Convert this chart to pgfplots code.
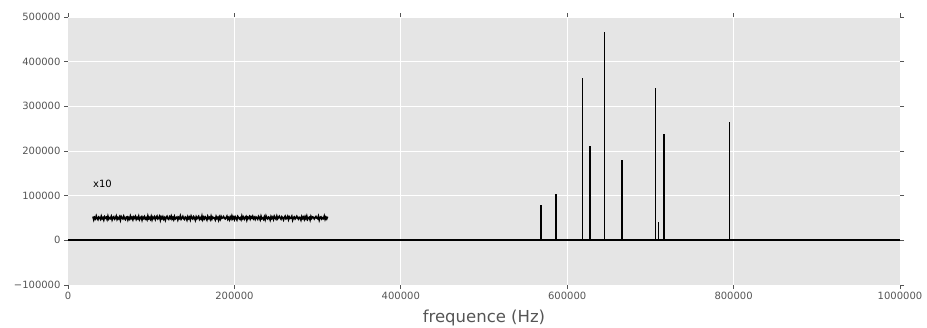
\documentclass[border=0pt]{standalone}
\usepackage{fontspec}
\setmainfont{DejaVu Sans}
\usepackage{pgfplots}
\pgfplotsset{compat=1.18}
\definecolor{bg}{HTML}{E5E5E5}
\definecolor{tk}{HTML}{555555}
\begin{document}
\begin{tikzpicture}
\useasboundingbox (-68pt,-42pt) rectangle (859pt,285pt);
\begin{axis}[
  at={(0,0)}, anchor=south west,
  scale only axis, width=832pt, height=268pt,
  xmin=0, xmax=1000000, ymin=-100000, ymax=500000,
  scaled ticks=false,
  axis background/.style={fill=bg},
  axis line style={draw=none},
  grid=major, grid style={white, line width=1pt},
  xtick={0,200000,400000,600000,800000,1000000},
  xticklabels={0,200000,400000,600000,800000,1000000},
  ytick={-100000,0,100000,200000,300000,400000,500000},
  yticklabels={−100000,0,100000,200000,300000,400000,500000},
  tick align=outside, major tick length=4pt,
  every tick/.style={tk, line width=0.8pt},
  tick label style={font=\fontsize{10}{12}\selectfont, text=tk},
  xlabel={frequence (Hz)},
  xlabel style={font=\fontsize{16.5}{19}\selectfont, text=tk, yshift=-3pt},
]
\addplot[black, line width=1.8pt] coordinates {(0,0)(1000000,0)};
\addplot[black, line width=1.3pt, ycomb] coordinates {
(568500,80000)
(586600,103000)
(618200,364000)
(627500,211000)
(645100,466000)
(665900,179000)
(706400,341000)
(709600,42000)
(716400,238000)
(767600,-2500)
(795400,264000)
};
\addplot[black, line width=1.6pt] table[row sep=\\] {
x y \\
30000 53200 \\ 31000 45900 \\ 32000 51200 \\ 33000 48200 \\ 34000 54500 \\ 35000 49300 \\ 36000 46400 \\ 37000 52100 \\ 38000 50300 \\ 39000 47200 \\
40000 53900 \\ 41000 48500 \\ 42000 50800 \\ 43000 45600 \\ 44000 52600 \\ 45000 49800 \\ 46000 51700 \\ 47000 46700 \\ 48000 54100 \\ 49000 47800 \\
50000 50500 \\ 51000 48800 \\ 52000 53600 \\ 53000 46100 \\ 54000 51400 \\ 55000 52900 \\ 56000 47500 \\ 57000 49400 \\ 58000 54300 \\ 59000 46900 \\
60000 50900 \\ 61000 48300 \\ 62000 52400 \\ 63000 45400 \\ 64000 53300 \\ 65000 50100 \\ 66000 48000 \\ 67000 53800 \\ 68000 48900 \\ 69000 46500 \\
70000 51900 \\ 71000 52700 \\ 72000 45800 \\ 73000 50600 \\ 74000 47600 \\ 75000 54400 \\ 76000 49100 \\ 77000 51500 \\ 78000 46200 \\ 79000 52200 \\
80000 49700 \\ 81000 53500 \\ 82000 47100 \\ 83000 51100 \\ 84000 48400 \\ 85000 54000 \\ 86000 46600 \\ 87000 50400 \\ 88000 52500 \\ 89000 45700 \\
90000 51800 \\ 91000 49200 \\ 92000 53100 \\ 93000 47900 \\ 94000 50200 \\ 95000 46300 \\ 96000 54700 \\ 97000 48600 \\ 98000 51000 \\ 99000 47300 \\
100000 53400 \\ 101000 46000 \\ 102000 52000 \\ 103000 49500 \\ 104000 52800 \\ 105000 46800 \\ 106000 51300 \\ 107000 54200 \\ 108000 48100 \\ 109000 49900 \\
110000 53700 \\ 111000 45500 \\ 112000 52300 \\ 113000 49000 \\ 114000 53000 \\ 115000 47400 \\ 116000 50700 \\ 117000 45200 \\ 118000 51600 \\ 119000 53900 \\
120000 48700 \\ 121000 47000 \\ 122000 52600 \\ 123000 49600 \\ 124000 54400 \\ 125000 47700 \\ 126000 51100 \\ 127000 46400 \\ 128000 53300 \\ 129000 48200 \\
130000 50500 \\ 131000 52100 \\ 132000 45900 \\ 133000 51400 \\ 134000 49300 \\ 135000 54600 \\ 136000 47200 \\ 137000 50000 \\ 138000 53500 \\ 139000 48500 \\
140000 46700 \\ 141000 52400 \\ 142000 50900 \\ 143000 45600 \\ 144000 52900 \\ 145000 48900 \\ 146000 51800 \\ 147000 46200 \\ 148000 54100 \\ 149000 49800 \\
150000 47900 \\ 151000 53200 \\ 152000 50600 \\ 153000 45300 \\ 154000 52700 \\ 155000 48400 \\ 156000 51300 \\ 157000 53800 \\ 158000 47000 \\ 159000 50300 \\
160000 47600 \\ 161000 54500 \\ 162000 46500 \\ 163000 51700 \\ 164000 48100 \\ 165000 52500 \\ 166000 50100 \\ 167000 45800 \\ 168000 53600 \\ 169000 49100 \\
170000 51200 \\ 171000 46900 \\ 172000 54000 \\ 173000 47800 \\ 174000 52000 \\ 175000 49600 \\ 176000 50400 \\ 177000 46000 \\ 178000 53400 \\ 179000 49000 \\
180000 51400 \\ 181000 45400 \\ 182000 52200 \\ 183000 47400 \\ 184000 53500 \\ 185000 49400 \\ 186000 50700 \\ 187000 53300 \\ 188000 49200 \\ 189000 48000 \\
190000 50900 \\ 191000 54100 \\ 192000 47200 \\ 193000 50600 \\ 194000 46100 \\ 195000 52400 \\ 196000 48300 \\ 197000 54600 \\ 198000 48500 \\ 199000 51800 \\
200000 46800 \\ 201000 52900 \\ 202000 49800 \\ 203000 45900 \\ 204000 53700 \\ 205000 51200 \\ 206000 48000 \\ 207000 50400 \\ 208000 46400 \\ 209000 54300 \\
210000 48900 \\ 211000 52100 \\ 212000 47300 \\ 213000 50800 \\ 214000 53400 \\ 215000 45600 \\ 216000 51600 \\ 217000 49400 \\ 218000 53100 \\ 219000 47600 \\
220000 52700 \\ 221000 50100 \\ 222000 54000 \\ 223000 48400 \\ 224000 51300 \\ 225000 47000 \\ 226000 52200 \\ 227000 50600 \\ 228000 47400 \\ 229000 53700 \\
230000 51200 \\ 231000 46200 \\ 232000 54000 \\ 233000 48700 \\ 234000 50100 \\ 235000 47000 \\ 236000 52500 \\ 237000 46500 \\ 238000 54500 \\ 239000 49600 \\
240000 47800 \\ 241000 52200 \\ 242000 51000 \\ 243000 45700 \\ 244000 53200 \\ 245000 49100 \\ 246000 52000 \\ 247000 46900 \\ 248000 53800 \\ 249000 49900 \\
250000 47400 \\ 251000 54000 \\ 252000 48400 \\ 253000 51300 \\ 254000 53900 \\ 255000 50100 \\ 256000 47500 \\ 257000 52800 \\ 258000 50700 \\ 259000 46000 \\
260000 51500 \\ 261000 54200 \\ 262000 48100 \\ 263000 49300 \\ 264000 53300 \\ 265000 46600 \\ 266000 52300 \\ 267000 49100 \\ 268000 50000 \\ 269000 53900 \\
270000 45500 \\ 271000 51100 \\ 272000 52600 \\ 273000 47900 \\ 274000 50300 \\ 275000 53800 \\ 276000 49800 \\ 277000 47400 \\ 278000 51700 \\ 279000 51000 \\
280000 45700 \\ 281000 53200 \\ 282000 49100 \\ 283000 52000 \\ 284000 46900 \\ 285000 53000 \\ 286000 48700 \\ 287000 54400 \\ 288000 47100 \\ 289000 50600 \\
290000 51800 \\ 291000 45800 \\ 292000 53500 \\ 293000 49200 \\ 294000 52400 \\ 295000 51600 \\ 296000 47900 \\ 297000 50700 \\ 298000 53300 \\ 299000 50000 \\
300000 48600 \\ 301000 53900 \\ 302000 45500 \\ 303000 51100 \\ 304000 52600 \\ 305000 47900 \\ 306000 50300 \\ 307000 48700 \\ 308000 54400 \\ 309000 47100 \\
310000 51800 \\ 311000 48200 \\ 312000 53000 \\
};
\node[anchor=west, inner sep=0pt, font=\fontsize{10}{12}\selectfont] at (axis cs:30000,126000) {x10};
\end{axis}
\end{tikzpicture}
\end{document}
